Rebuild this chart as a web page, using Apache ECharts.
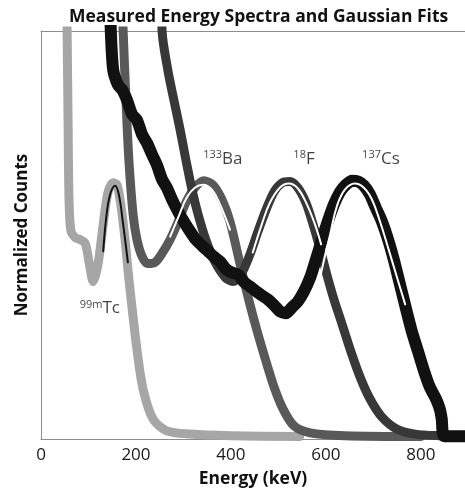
<!DOCTYPE html>
<html>
<head>
<meta charset="utf-8">
<script src="https://cdn.jsdelivr.net/npm/echarts@6/dist/echarts.min.js"></script>
<style>
    html, body { margin: 0; padding: 0; background: #fff; }
    #chart { width: 465px; height: 493px; }
</style>
</head>
<body>
<div id="chart"></div>
<script>
// energy (keV) / normalized counts
var tcSpectrum = [[53,117],[55,100],[57,78],[59,59],[63,51],[72,49.4],[82,48.9],[93,48],[101,43.5],[110,38.6],[120,42.8],[131,52.6],[141,60.4],[152,62.8],[160,62.3],[168,57.5],[177,48.9],[183,41.6],[190,34],[202,22],[215,12.2],[236,4.9],[265,2],[314,1.2],[400,0.8],[545,0.6]];
var baSpectrum = [[168,117],[173,100],[179,83],[185,68.5],[194,55],[202,48.9],[213,44.7],[225,43],[240,43.3],[255,45.5],[272,48.9],[289,53.3],[305,57.9],[324,61.6],[343,63.3],[362,62.3],[381,58.7],[398,53.3],[421,42],[440,33],[457,25.7],[474,19],[491,12.7],[510,7.3],[533,3.2],[567,1.5],[640,0.8],[800,0.6]];
var fSpectrum = [[253,117],[255,100],[267,90.5],[280,83],[293,75.8],[305,68.5],[318,61.1],[331,55],[347,48.9],[366,43.5],[388,39.6],[404,38.6],[421,40.3],[440,45.2],[457,50.9],[474,56.2],[491,60.6],[508,62.8],[524,63.1],[541,61.6],[558,57.9],[573,52.6],[588,46.5],[602,40.3],[617,34.2],[632,28.9],[651,22],[672,15.2],[693,9.8],[718,5.4],[750,2.4],[788,1.2],[840,0.8],[893,0.7]];
var csSpectrum = [[143,117],[147,100],[152,90.5],[162,86.8],[171,85.6],[181,83.1],[192,79.5],[202,78.2],[213,74.6],[223,72.6],[234,69.7],[244,67.2],[255,63.6],[265,61.6],[276,58.7],[289,55.7],[301,53.3],[314,50.9],[326,48.9],[339,47.4],[352,46],[364,44.7],[377,43.5],[390,41.6],[402,40.8],[415,40.3],[428,38.4],[440,37.4],[453,36.2],[465,35.2],[478,34.2],[491,32.8],[503,31.3],[516,30.8],[529,32.3],[541,33.7],[554,36.2],[567,39.6],[579,44],[592,48.9],[604,53.3],[617,57.5],[630,60.6],[642,62.3],[655,63.3],[668,63.1],[680,62.1],[693,59.9],[705,56.7],[718,53.3],[731,48.9],[743,44],[756,37.9],[769,31.8],[781,26.4],[794,21.5],[807,16.6],[819,12.7],[832,9.8],[840,7.3],[844,4.9],[849,0.7],[893,0.7]];

var tcFit = [[131,46],[137,53.8],[145,59.7],[156,62.1],[164,59.9],[173,52.6],[183,43.3]];
var baFit = [[272,49.6],[289,54.3],[307,59.2],[324,61.6],[341,62.3],[360,61.1],[377,57.5],[398,51.3]];
var fFit = [[446,45.7],[465,52.6],[482,57.9],[503,61.6],[522,62.6],[541,61.4],[560,57.5],[577,52.6],[590,47.7]];
var csFit = [[581,35.9],[594,42.8],[609,50.1],[623,57],[640,61.1],[661,62.6],[680,61.6],[697,58.7],[714,53.3],[731,46.9],[748,40.3],[767,33]];

var isoMass = ['99m', '133', '18', '137'];
var isoName = ['Tc', 'Ba', 'F', 'Cs'];
var isoLabelAt = [[124,32], [383,68.7], [554,68.7], [716,68.7]];

var xTicks = [0, 200, 400, 600, 800];

var font = '"Open Sans", "Noto Sans", sans-serif';
var myChart = echarts.init(document.getElementById('chart'));

function spectrum(name, data, color, width, smooth) {
    return {
        name: name,
        type: 'line',
        data: data,
        showSymbol: false,
        smooth: smooth,
        clip: true,
        lineStyle: { color: color, width: width, cap: 'round', join: 'round' },
        silent: true
    };
}

var labelData = isoName.map(function (n, i) {
    return { value: isoLabelAt[i], mass: isoMass[i], iso: n };
});

var option = {
    animation: false,
    title: {
        text: 'Measured Energy Spectra and Gaussian Fits',
        left: 64,
        top: 3,
        textStyle: { fontFamily: font, fontSize: 17.5, fontWeight: 'bold', color: '#111' }
    },
    grid: { left: 41, right: 0, top: 31, bottom: 53 },
    xAxis: [{
        type: 'value',
        min: 0,
        max: 893,
        interval: 200,
        name: 'Energy (keV)',
        nameLocation: 'middle',
        nameGap: 31,
        nameTextStyle: { fontFamily: font, fontSize: 17.5, fontWeight: 'bold', color: '#111' },
        axisLine: { show: true, lineStyle: { color: '#8c8c8c', width: 1 } },
        axisTick: { show: false },
        splitLine: { show: false },
        axisLabel: {
            showMaxLabel: false,
            margin: 8,
            fontFamily: font, fontSize: 17, color: '#1a1a1a',
            formatter: function (v) { return xTicks.indexOf(v) >= 0 ? String(v) : ''; }
        }
    }, {
        type: 'value',
        position: 'top',
        min: 0,
        max: 893,
        axisLine: { show: true, onZero: false, lineStyle: { color: '#8c8c8c', width: 1 } },
        axisTick: { show: false },
        axisLabel: { show: false },
        splitLine: { show: false }
    }],
    yAxis: {
        type: 'value',
        min: 0,
        max: 100,
        name: 'Normalized Counts',
        nameLocation: 'middle',
        nameGap: 10,
        nameTextStyle: { fontFamily: font, fontSize: 17, fontWeight: 'bold', color: '#111' },
        axisLine: { show: true, lineStyle: { color: '#8c8c8c', width: 1 } },
        axisTick: { show: false },
        axisLabel: { show: false },
        splitLine: { show: false }
    },
    series: [
        spectrum('99mTc', tcSpectrum, '#a6a6a6', 9, 0.3),
        spectrum('133Ba', baSpectrum, '#595959', 9, 0.3),
        spectrum('18F', fSpectrum, '#383838', 9, 0.3),
        spectrum('137Cs', csSpectrum, '#111111', 12, 0.2),
        spectrum('Tc fit', tcFit, '#111111', 2, 0.4),
        spectrum('Ba fit', baFit, '#ffffff', 2, 0.4),
        spectrum('F fit', fFit, '#ffffff', 2, 0.4),
        spectrum('Cs fit', csFit, '#ffffff', 2, 0.4),
        {
            type: 'scatter',
            data: labelData,
            symbolSize: 0,
            silent: true,
            label: {
                show: true,
                position: 'inside',
                formatter: function (p) {
                    return '{s|' + p.data.mass + '}{b|' + p.data.iso + '}';
                },
                rich: {
                    s: { fontFamily: font, fontSize: 11, color: '#111', padding: [0, 0, 8, 0] },
                    b: { fontFamily: font, fontSize: 17, color: '#111' }
                }
            }
        }
    ]
};
myChart.setOption(option);
</script>
</body>
</html>
